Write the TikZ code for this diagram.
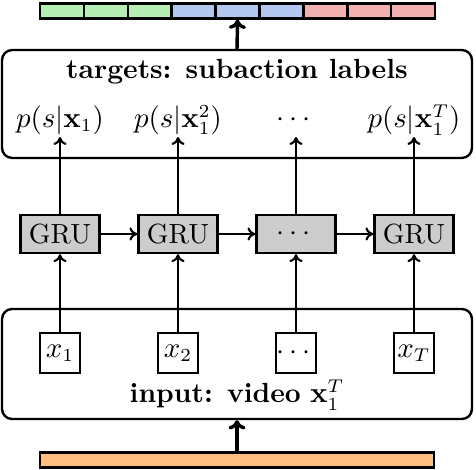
\documentclass[tikz,border=0pt]{standalone}
\usepackage{amsmath}
\usetikzlibrary{arrows.meta}
\definecolor{cgreen}{HTML}{B5EFB3}
\definecolor{cblue}{HTML}{B3C7EE}
\definecolor{cred}{HTML}{F2B0B0}
\definecolor{corange}{HTML}{FFBF80}
\definecolor{cgray}{HTML}{CCCCCC}
\begin{document}
\begin{tikzpicture}[x=0.379pt,y=-0.379pt,
  every node/.style={font=\fontsize{10.5}{12.6}\selectfont},
  outerbox/.style={draw,line width=0.9pt,rounded corners=3.8pt,minimum width=178.1pt,inner sep=0pt},
  grubox/.style={draw,line width=0.9pt,fill=cgray,minimum width=29.9pt,minimum height=14.4pt,inner sep=0pt},
  xbox/.style={draw,line width=0.8pt,minimum width=15.2pt,minimum height=15.2pt,inner sep=0pt},
  cell/.style={draw,line width=0.9pt,minimum width=16.6pt,minimum height=5.7pt,inner sep=0pt},
  conn/.style={line width=0.8pt,-{To[length=3pt,width=5pt]}},
  thickconn/.style={line width=1.3pt,-{To[length=3.5pt,width=6.5pt]}},
  lbl/.style={inner sep=1.5pt}
]
\useasboundingbox (0,0) rectangle (476,470);
% top bar
\foreach \i/\c in {1/cgreen,2/cgreen,3/cgreen,4/cblue,5/cblue,6/cblue,7/cred,8/cred,9/cred}{
  \node[cell,fill=\c] (c\i) at ({40+43.9*(\i-0.5)},11) {};
}
% target box
\node[outerbox,minimum height=40.9pt] (targets) at (237,104) {};
\node (ttitle) at (237,72) {\textbf{targets: subaction labels}};
\node[lbl] (p1) at (60,120) {$p(s|\mathbf{x}_1)$};
\node[lbl] (p2) at (178,120) {$p(s|\mathbf{x}_1^2)$};
\node[lbl] (p3) at (296,120) {$\cdots$};
\node[lbl] (p4) at (414,120) {$p(s|\mathbf{x}_1^T)$};
% GRUs
\node[grubox] (g1) at (60,234) {GRU};
\node[grubox] (g2) at (178,234) {GRU};
\node[grubox] (g3) at (296,234) {$\cdots$};
\node[grubox] (g4) at (414,234) {GRU};
% input box
\node[outerbox,minimum height=41.7pt] (input) at (237,364) {};
\node[xbox] (x1) at (60,353) {$x_1$};
\node[xbox] (x2) at (178,353) {$x_2$};
\node[xbox] (x3) at (296,353) {$\cdots$};
\node[xbox] (x4) at (414,353) {$x_T$};
\node (ititle) at (237,395) {\textbf{input: video} $\mathbf{x}_1^T$};
% orange bar
\node[draw,line width=0.9pt,fill=corange,minimum width=149.3pt,minimum height=5.7pt,inner sep=0pt] (obar) at (237,460) {};
% connectors
\foreach \i in {1,2,3,4}{
  \draw[conn] (x\i.north) -- (g\i.south);
  \draw[conn] (g\i.north) -- (p\i.south |- 0,137);
}
\draw[conn] (g1) -- (g2);
\draw[conn] (g2) -- (g3);
\draw[conn] (g3) -- (g4);
\draw[thickconn] (targets.north) -- (c5.south);
\draw[thickconn] (obar.north) -- (input.south);
\end{tikzpicture}
\end{document}
